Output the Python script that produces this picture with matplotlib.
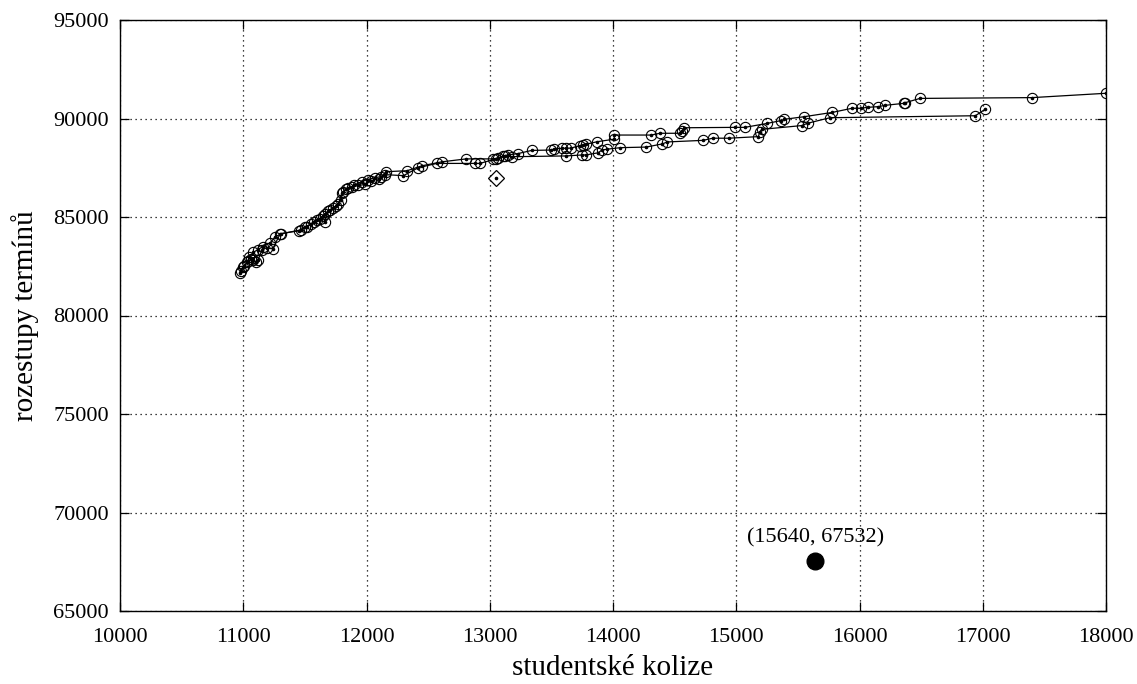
import matplotlib
matplotlib.use("Agg")
import matplotlib.pyplot as plt

# horní běh (končí na 18000)
run_a_x = [10970, 11000, 11030, 11050, 11080, 11120, 11160, 11220, 11260, 11310,
           11470, 11520, 11570, 11620, 11660, 11700, 11750, 11790, 11810, 11850,
           11900, 11960, 12010, 12070, 12120, 12160, 12330, 12450, 12610, 12810,
           13030, 13070, 13110, 13150, 13230, 13340, 13500, 13520, 13590, 13620,
           13660, 13730, 13760, 13780, 13870, 14010, 14010, 14310, 14380, 14540,
           14560, 14580, 14990, 15070, 15250, 15360, 15390, 15550, 15780, 15940,
           16010, 16070, 16150, 16210, 16360, 16370, 16490, 17400, 18000]
run_a_y = [82170, 82450, 82700, 82950, 83200, 83350, 83500, 83700, 84000, 84150,
           84350, 84500, 84750, 84900, 85150, 85350, 85550, 85850, 86250, 86450,
           86600, 86800, 86900, 87000, 87050, 87300, 87350, 87600, 87800, 87950,
           87950, 88000, 88100, 88150, 88220, 88380, 88400, 88450, 88490, 88490,
           88500, 88620, 88650, 88690, 88820, 88950, 89160, 89160, 89250, 89250,
           89380, 89530, 89550, 89550, 89750, 89890, 89960, 90090, 90310, 90520,
           90520, 90570, 90600, 90670, 90770, 90800, 91020, 91060, 91280]

# dolní běh (končí na 17000)
run_b_x = [10980, 11010, 11040, 11060, 11080, 11100, 11120, 11150, 11190, 11240,
           11300, 11450, 11500, 11550, 11600, 11650, 11660, 11690, 11730, 11770,
           11800, 11830, 11880, 11930, 11990, 12040, 12100, 12150, 12300, 12420,
           12570, 12880, 12920, 13050, 13120, 13180, 13620, 13750, 13780, 13880,
           13910, 13950, 14060, 14270, 14400, 14440, 14730, 14810, 14940, 15180,
           15190, 15210, 15530, 15580, 15760, 16940, 17020]
run_b_y = [82250, 82500, 82750, 82850, 82820, 82730, 82820, 83300, 83450, 83400,
           84150, 84300, 84500, 84650, 84850, 85050, 84750, 85300, 85450, 85650,
           86200, 86400, 86500, 86600, 86650, 86850, 86950, 87150, 87100, 87500,
           87720, 87720, 87720, 87950, 88100, 88060, 88100, 88150, 88150, 88260,
           88400, 88440, 88520, 88550, 88710, 88810, 88890, 89000, 89000, 89080,
           89330, 89450, 89640, 89760, 90040, 90140, 90470]

start_pt = (13050, 86960)      # kosočtverec
best_pt = (15640, 67532)       # plný bod s popiskem

x_ticks = [10000, 11000, 12000, 13000, 14000, 15000, 16000, 17000, 18000]
y_ticks = [65000, 70000, 75000, 80000, 85000, 90000, 95000]

plt.rcParams["font.family"] = ["Liberation Serif", "DejaVu Serif"]

fig = plt.figure(figsize=(11.37, 6.84), dpi=100)
ax = fig.add_axes([120 / 1137, 1 - 611 / 684, 986 / 1137, 591 / 684])

for xs, ys in [(run_a_x, run_a_y), (run_b_x, run_b_y)]:
    ax.plot(xs, ys, color="black", lw=0.9, marker="o", ms=7.4, mfc="none",
            mec="black", mew=0.8, zorder=3)
    ax.plot(xs, ys, ls="none", marker="o", ms=1.6, color="black", zorder=4)

ax.plot(*start_pt, marker="D", ms=8.5, mfc="none", mec="black", mew=0.9, zorder=3)
ax.plot(*start_pt, marker="o", ms=1.6, color="black", zorder=4)

ax.plot(*best_pt, marker="o", ms=12, color="black", zorder=3)
ax.annotate(f"({best_pt[0]}, {best_pt[1]})", best_pt, xytext=(0, 10),
            textcoords="offset points", ha="center", va="bottom", fontsize=16)

ax.set_xlim(10000, 18000)
ax.set_ylim(65000, 95000)
ax.set_xticks(x_ticks)
ax.set_yticks(y_ticks)
ax.tick_params(direction="in", length=6.5, width=0.9, labelsize=16,
               top=True, right=True)
ax.tick_params(axis="x", pad=12)
ax.tick_params(axis="y", pad=8)
ax.grid(True, color="black", ls=(0, (1, 3)), lw=0.9)
for s in ax.spines.values():
    s.set_linewidth(1.0)

ax.set_xlabel("studentské kolize", fontsize=21, labelpad=6)
ax.set_ylabel("rozestupy termínů", fontsize=21, labelpad=10)

fig.savefig("out.png", dpi=100)
